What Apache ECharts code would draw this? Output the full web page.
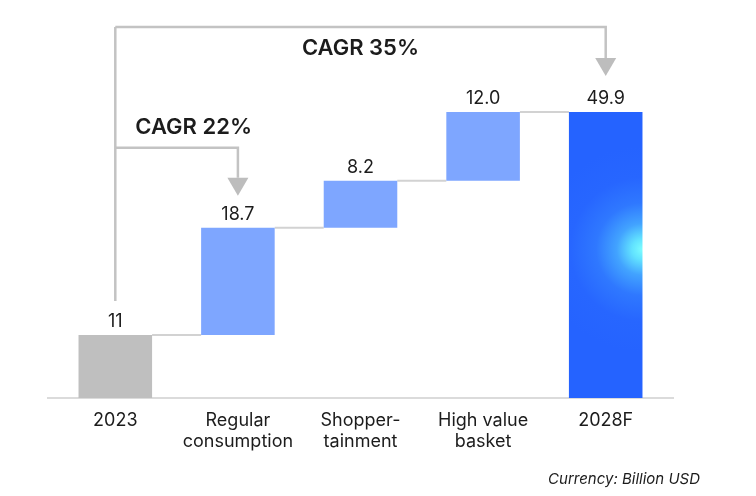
<!DOCTYPE html>
<html><head><meta charset="utf-8">
<script src="https://cdn.jsdelivr.net/npm/echarts@6/dist/echarts.min.js"></script>
<style>html,body{margin:0;padding:0;background:#fff}#c{width:756px;height:496px}</style>
</head><body><div id="c"></div>
<script>
// ---- data ----
const categories = ['2023', 'Regular\nconsumption', 'Shopper-\ntainment', 'High value\nbasket', '2028F'];
const values = [11, 18.7, 8.2, 12.0, 49.9];
const valueLabels = ['11', '18.7', '8.2', '12.0', '49.9'];
const barKinds = ['start', 'step', 'step', 'step', 'total'];
const cagrLabels = ['CAGR 35%', 'CAGR 22%'];
const cagrFrom = [0, 0];
const cagrTo = [4, 1];
const footnote = 'Currency: Billion USD';

// ---- layout / style (pixels) ----
const LAYOUT = {
  bracketRise: [85, 80],
  arrowGap: [36, 32],
  stemGap: 34,
  labelDy: [21, -20],
  labelAlign: ['center', 'left'],
  labelDx: [0, 20],
  arrowW: 21, arrowH: 18,
  baselineExtra: 7
};
const FONT = 'Inter, "Noto Sans", sans-serif';
const TEXT = '#1c1c1c';

// derive waterfall bases
const bases = [], tops = [];
let run = 0;
values.forEach((v, i) => {
  if (barKinds[i] === 'step') { bases.push(run); run += v; }
  else { bases.push(0); run = v; }
  tops.push(bases[i] + v);
});

const totalGradient = {
  type: 'radial', x: 1, y: 0.48, r: 1.4,
  colorStops: [
    { offset: 0, color: '#7cfdff' },
    { offset: 0.1, color: '#62e3ff' },
    { offset: 0.25, color: '#42a3ff' },
    { offset: 0.45, color: '#2f78ff' },
    { offset: 0.7, color: '#2766ff' },
    { offset: 1, color: '#2563ff' }
  ]
};
const kindColor = { start: '#bfbfbf', step: '#7ea6ff', total: totalGradient };

const chart = echarts.init(document.getElementById('c'), null, { renderer: 'canvas' });

function renderDecor(params, api) {
  const band = api.size([1, 0])[0];
  const half = band * 0.3;
  const children = [];
  const lineGray = '#d2d2d2';
  const brGray = '#c3c3c3';
  const p0 = api.coord([0, 0]), pN = api.coord([categories.length - 1, 0]);
  children.push({ type: 'line', shape: { x1: p0[0] - band / 2 - LAYOUT.baselineExtra, y1: p0[1], x2: pN[0] + band / 2 + LAYOUT.baselineExtra, y2: pN[1] },
    style: { stroke: '#cfcfcf', lineWidth: 1.5 } });
  for (let i = 0; i < categories.length - 1; i++) {
    const a = api.coord([i, tops[i]]), b = api.coord([i + 1, tops[i]]);
    children.push({ type: 'line', shape: { x1: a[0] + half, y1: a[1], x2: b[0] - half, y2: b[1] },
      style: { stroke: lineGray, lineWidth: 2 } });
  }
  let stemTop = Infinity;
  const startTop = api.coord([cagrFrom[0], tops[cagrFrom[0]]]);
  cagrLabels.forEach((lab, k) => {
    const s = api.coord([cagrFrom[k], tops[cagrFrom[k]]]);
    const t = api.coord([cagrTo[k], tops[cagrTo[k]]]);
    const hy = t[1] - LAYOUT.bracketRise[k];
    stemTop = Math.min(stemTop, hy);
    const tipY = t[1] - LAYOUT.arrowGap[k];
    const baseY = tipY - LAYOUT.arrowH;
    children.push({ type: 'polyline', shape: { points: [[s[0], hy], [t[0], hy], [t[0], baseY]] },
      style: { stroke: brGray, lineWidth: 2.5, fill: null } });
    children.push({ type: 'polygon', shape: { points: [[t[0] - LAYOUT.arrowW / 2, baseY], [t[0] + LAYOUT.arrowW / 2, baseY], [t[0], tipY]] },
      style: { fill: '#bdbdbd' } });
    const lx = LAYOUT.labelAlign[k] === 'center' ? (s[0] + t[0]) / 2 : s[0] + LAYOUT.labelDx[k];
    children.push({ type: 'text', x: lx, y: hy + LAYOUT.labelDy[k],
      style: { text: lab, fill: TEXT, font: '600 22px ' + FONT, align: LAYOUT.labelAlign[k], verticalAlign: 'middle' } });
  });
  children.push({ type: 'line', shape: { x1: startTop[0], y1: stemTop, x2: startTop[0], y2: startTop[1] - LAYOUT.stemGap },
    style: { stroke: brGray, lineWidth: 2.5 } });
  return { type: 'group', children };
}

chart.setOption({
  animation: false,
  backgroundColor: '#fff',
  grid: { left: 54, right: 89, top: 54, bottom: 98 },
  xAxis: {
    type: 'category', data: categories,
    axisLine: { show: false }, axisTick: { show: false },
    axisLabel: { color: TEXT, fontFamily: FONT, fontSize: 18, lineHeight: 21, margin: 12, interval: 0 }
  },
  yAxis: { type: 'value', min: 0, max: 60, show: false, splitLine: { show: false } },
  series: [
    { type: 'bar', stack: 'w', data: bases, barWidth: '60%', itemStyle: { color: 'rgba(0,0,0,0)' }, silent: true },
    { type: 'bar', stack: 'w', barWidth: '60%',
      data: values.map((v, i) => ({ value: v, itemStyle: { color: kindColor[barKinds[i]] } })),
      label: { show: true, position: 'top', distance: 4, color: TEXT, fontFamily: FONT, fontSize: 18,
        formatter: p => valueLabels[p.dataIndex] } },
    { type: 'custom', data: [0], renderItem: renderDecor, silent: true, z: 1 }
  ],
  graphic: [{ type: 'text', right: 56, top: 472,
    style: { text: footnote, fill: TEXT, font: 'italic 15px ' + FONT } }]
});
</script></body></html>
